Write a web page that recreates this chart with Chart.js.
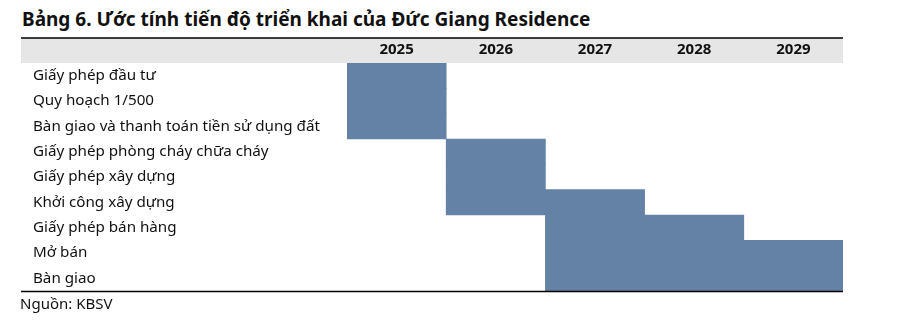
<!DOCTYPE html>
<html>
<head>
<meta charset="utf-8">
<script src="https://cdn.jsdelivr.net/npm/chart.js@4"></script>
<style>
  body{ margin:0; background:#fff; }
  #wrap{ position:relative; width:897px; height:322px; }
  #title{ position:absolute; left:22px; top:6px; font:bold 19px "Noto Sans", sans-serif; color:#111; white-space:nowrap; }
  #source{ position:absolute; left:20px; top:293px; font:15px "Noto Sans", sans-serif; color:#111; }
  canvas{ position:absolute; left:0; top:0; }
</style>
</head>
<body>
<div id="wrap">
  <div id="title">Bảng 6. Ước tính tiến độ triển khai của Đức Giang Residence</div>
  <canvas id="ganttChart" width="897" height="322"></canvas>
  <div id="source">Nguồn: KBSV</div>
</div>

<script>
/* =========================================
   Data
========================================= */

const years = [2025, 2026, 2027, 2028, 2029];

const tasks = [
    "Giấy phép đầu tư",
    "Quy hoạch 1/500",
    "Bàn giao và thanh toán tiền sử dụng đất",
    "Giấy phép phòng cháy chữa cháy",
    "Giấy phép xây dựng",
    "Khởi công xây dựng",
    "Giấy phép bán hàng",
    "Mở bán",
    "Bàn giao"
];

// first and last year of each task
const startYear = [2025, 2025, 2025, 2026, 2026, 2026, 2027, 2027, 2027];
const endYear   = [2025, 2025, 2025, 2026, 2026, 2027, 2028, 2029, 2029];


/* =========================================
   Header band + rules
========================================= */

const tableFrame = {
    id:"tableFrame",
    beforeDraw(chart){
        const {ctx, chartArea} = chart;
        const xs = chart.scales.x;
        const left = 21;
        ctx.save();
        ctx.fillStyle = "#E6E6E6";
        ctx.fillRect(left, xs.top, chartArea.right - left, xs.bottom - xs.top);
        ctx.restore();
    },
    afterDraw(chart){
        const {ctx, chartArea} = chart;
        const xs = chart.scales.x;
        const left = 21;
        ctx.save();
        ctx.strokeStyle = "#000";
        ctx.lineWidth = 1.5;
        ctx.beginPath();
        ctx.moveTo(left, xs.top);
        ctx.lineTo(chartArea.right, xs.top);
        ctx.moveTo(left, chartArea.bottom + 0.5);
        ctx.lineTo(chartArea.right, chartArea.bottom + 0.5);
        ctx.stroke();
        ctx.restore();
    }
};


/* =========================================
   Chart
========================================= */

const ctx = document.getElementById("ganttChart").getContext("2d");

new Chart(ctx,{
    type:"bar",
    data:{
        labels:tasks,
        datasets:[{
            data:tasks.map((t,i)=>[startYear[i], endYear[i] + 1]),
            backgroundColor:"#6482A6",
            borderWidth:0,
            barPercentage:1,
            categoryPercentage:1
        }]
    },
    options:{
        responsive:false,
        animation:false,
        indexAxis:"y",
        layout:{
            padding:{ left:33, right:54, top:38, bottom:31 }
        },
        plugins:{
            legend:{display:false},
            tooltip:{enabled:false}
        },
        scales:{
            x:{
                type:"linear",
                position:"top",
                min:years[0],
                max:years[years.length-1] + 1,
                grid:{display:false, drawTicks:false},
                border:{display:false},
                afterBuildTicks:(scale)=>{
                    scale.ticks = years.map(y=>({value:y + 0.5}));
                },
                afterFit:(scale)=>{ scale.height = 25; },
                ticks:{
                    autoSkip:false,
                    maxRotation:0,
                    padding:4,
                    color:"#111",
                    font:{family:"Noto Sans", size:15, weight:"bold"},
                    callback:(v)=>String(Math.floor(v))
                }
            },
            y:{
                type:"category",
                grid:{display:false, drawTicks:false},
                border:{display:false},
                afterFit:(scale)=>{ scale.width = 314; },
                ticks:{
                    crossAlign:"far",
                    autoSkip:false,
                    color:"#111",
                    font:{family:"Noto Sans", size:15.2}
                }
            }
        }
    },
    plugins:[tableFrame]
});
</script>
</body>
</html>
